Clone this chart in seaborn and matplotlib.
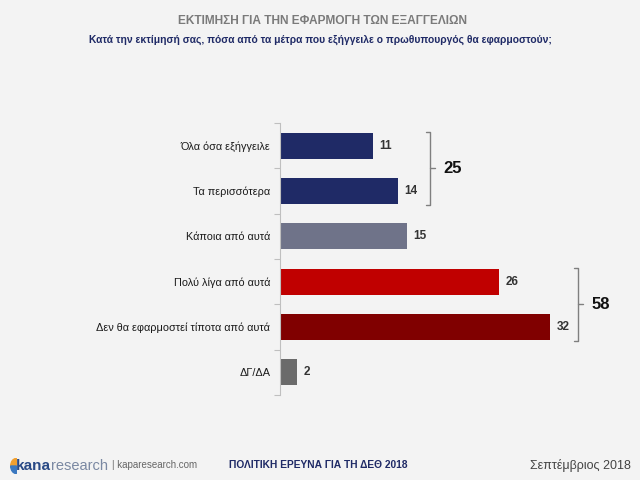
import matplotlib
matplotlib.use("Agg")
import matplotlib.pyplot as plt
import seaborn as sns
import pandas as pd
from matplotlib.patches import Wedge

categories = ["Όλα όσα εξήγγειλε", "Τα περισσότερα", "Κάποια από αυτά",
              "Πολύ λίγα από αυτά", "Δεν θα εφαρμοστεί τίποτα από αυτά", "ΔΓ/ΔΑ"]
values = [11, 14, 15, 26, 32, 2]
colors = ["#1f2a66", "#1f2a66", "#6f7389", "#c00000", "#800000", "#6b6b6b"]
group_labels = ["25", "58"]
group_members = [(0, 1), (3, 4)]

title = "ΕΚΤΙΜΗΣΗ ΓΙΑ ΤΗΝ ΕΦΑΡΜΟΓΗ ΤΩΝ ΕΞΑΓΓΕΛΙΩΝ"
subtitle = "Κατά την εκτίμησή σας, πόσα από τα μέτρα που εξήγγειλε ο πρωθυπουργός θα εφαρμοστούν;"
footer_mid = "ΠΟΛΙΤΙΚΗ ΕΡΕΥΝΑ ΓΙΑ ΤΗ ΔΕΘ 2018"
footer_right = "Σεπτέμβριος 2018"

sns.set_theme(style="white")
plt.rcParams['font.family'] = ['Liberation Sans', 'DejaVu Sans']

bg = "#f3f3f3"
fig = plt.figure(figsize=(6.4, 4.8), dpi=100, facecolor=bg)
ax = fig.add_axes([280/640, 85/480, 330/640, 272/480])
ax.set_facecolor(bg)

df = pd.DataFrame({"cat": categories, "val": values})
sns.barplot(data=df, x="val", y="cat", hue="cat", palette=colors, legend=False,
            width=0.58, ax=ax, edgecolor="none", saturation=1)

ax.set_xlim(0, 39.1)
ax.set_ylim(5.5, -0.5)
ax.set_xlabel("")
ax.set_ylabel("")
ax.set_xticks([])
for s in ["top", "right", "bottom"]:
    ax.spines[s].set_visible(False)
ax.spines["left"].set_color("#bfbfbf")
ax.spines["left"].set_linewidth(0.8)
ax.set_yticks([y + 0.5 for y in range(-1, 6)], minor=True)
ax.tick_params(axis="y", which="minor", length=4, color="#bfbfbf", left=True, width=0.8)
ax.tick_params(axis="y", which="major", length=0, labelsize=7.8, labelcolor="#1a1a1a", pad=7)

for i, v in enumerate(values):
    ax.text(v + 0.75, i, str(v), va="center", ha="left", fontsize=8.5,
            fontweight="bold", color="#333333")

bracket_x = [17.8, 35.3]
for (a, b), lab, bx in zip(group_members, group_labels, bracket_x):
    y0, y1 = a - 0.3, b + 0.3
    hook = 0.5
    ax.plot([bx - hook, bx, bx, bx - hook], [y0, y0, y1, y1], color="#7f7f7f",
            lw=1.0, clip_on=False)
    ym = (a + b) / 2
    ax.plot([bx, bx + 0.6], [ym, ym], color="#7f7f7f", lw=1.0, clip_on=False)
    ax.text(bx + 1.6, ym, lab, va="center", ha="left", fontsize=12,
            fontweight="bold", color="#111111", clip_on=False)

fig.text(322/640, 1 - 21/480, title, ha="center", va="center", fontsize=8.6,
         fontweight="bold", color="#7a7a7a")
fig.text(320/640, 1 - 40/480, subtitle, ha="center", va="center", fontsize=7.4,
         fontweight="bold", color="#1f2a66")

# footer
fig.text(229/640, 1 - 465/480, footer_mid, ha="left", va="center", fontsize=7.4,
         fontweight="bold", color="#1f2a66")
fig.text(631/640, 1 - 465/480, footer_right, ha="right", va="center", fontsize=9,
         color="#444444")
lax = fig.add_axes([5/640, 1 - 474/480, 12/640, 16/480])
lax.set_xlim(-1, 1); lax.set_ylim(-1, 1); lax.axis("off")
lax.add_patch(Wedge((0.9, 0), 0.95, 90, 180, color="#f0a030"))
lax.add_patch(Wedge((0.9, 0), 0.95, 180, 270, color="#3a78c0"))
fig.text(16/640, 1 - 466/480, "kana", ha="left", va="center", fontsize=11,
         fontweight="bold", color="#2a4a86")
fig.text(51/640, 1 - 466/480, "research", ha="left", va="center", fontsize=10.5,
         color="#7a88a2")
fig.text(112/640, 1 - 465/480, "| kaparesearch.com", ha="left", va="center",
         fontsize=7, color="#666666")

fig.savefig("out.png", dpi=100, facecolor=bg)
